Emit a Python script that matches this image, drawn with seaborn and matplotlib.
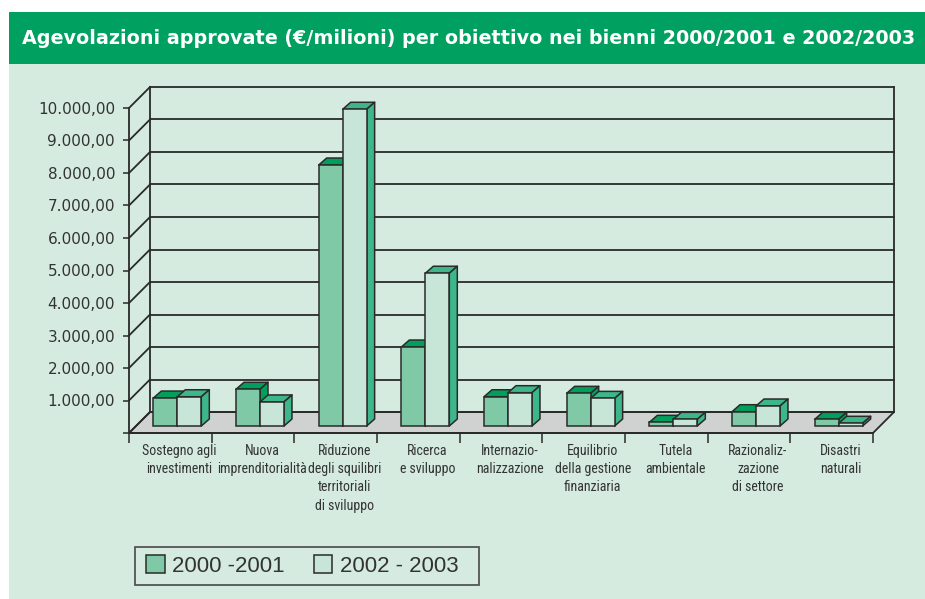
import matplotlib
matplotlib.use("Agg")
import matplotlib.pyplot as plt
import matplotlib.transforms as mtransforms
from matplotlib.patches import Polygon, Rectangle
from matplotlib.lines import Line2D
from matplotlib import font_manager
import seaborn as sns
import pandas as pd

# ---------------- data ----------------
categories = [
    "Sostegno agli\ninvestimenti",
    "Nuova\nimprenditorialità",
    "Riduzione\ndegli squilibri\nterritoriali\ndi sviluppo",
    "Ricerca\ne sviluppo",
    "Internazio-\nnalizzazione",
    "Equilibrio\ndella gestione\nfinanziaria",
    "Tutela\nambientale",
    "Razionaliz-\nzazione\ndi settore",
    "Disastri\nnaturali",
]
series_names = ["2000 -2001", "2002 - 2003"]
values_2000_2001 = [860, 1130, 8030, 2430, 900, 1005, 113, 440, 205]
values_2002_2003 = [900, 740, 9745, 4700, 1025, 850, 205, 615, 83]
ytick_values = [0, 1000, 2000, 3000, 4000, 5000, 6000, 7000, 8000, 9000, 10000]
ytick_labels = ["", "1.000,00", "2.000,00", "3.000,00", "4.000,00", "5.000,00",
                "6.000,00", "7.000,00", "8.000,00", "9.000,00", "10.000,00"]
title = "Agevolazioni approvate (€/milioni) per obiettivo nei bienni 2000/2001 e 2002/2003"

# ---------------- style ----------------
BG = "#d5ebe0"
TITLE_BG = "#00a060"
FLOOR = "#d0d2d2"
FRONT = ["#7fc9a7", "#c8e6d8"]
TOPC = ["#00a05c", "#3db78a"]
SIDEC = ["#00a05c", "#3db78a"]
EDGE = "#2a2a2a"
TXT = "#333333"

names = {f.name for f in font_manager.fontManager.ttflist}
CAT_FONT = "Roboto Condensed" if "Roboto Condensed" in names else "Roboto"
CAT_SIZE = 10 if CAT_FONT == "Roboto Condensed" else 9

W, H, DPI = 925, 599, 100
fig = plt.figure(figsize=(W / DPI, H / DPI), dpi=DPI)
fig.patch.set_facecolor("white")

# background panels
fig.add_artist(Rectangle((9 / W, 0), 1, (H - 64) / H, transform=fig.transFigure,
                         facecolor=BG, edgecolor="none", zorder=0))
fig.add_artist(Rectangle((9 / W, (H - 64) / H), 1, 52 / H, transform=fig.transFigure,
                         facecolor=TITLE_BG, edgecolor="none", zorder=0))
fig.text(22 / W, (H - 39) / H, title, color="white", fontsize=13.8, fontweight="bold",
         family="DejaVu Sans", va="center", ha="left")

# axes = front plane
ax = fig.add_axes([129 / W, (H - 433) / H, 744 / W, 325 / H])
ax.patch.set_visible(False)

df = pd.DataFrame({
    "categoria": categories * 2,
    "valore": values_2000_2001 + values_2002_2003,
    "biennio": [series_names[0]] * len(categories) + [series_names[1]] * len(categories),
})

sns.barplot(data=df, x="categoria", y="valore", hue="biennio", order=categories,
            hue_order=series_names, palette=FRONT, width=0.58, dodge=True,
            edgecolor=EDGE, linewidth=1.1, errorbar=None, ax=ax, legend=False,
            saturation=1)

ax.set_xlim(-0.5, len(categories) - 0.5)
ax.set_ylim(0, 10000)
fig.canvas.draw()

DEPTH = 21          # wall depth in pixels
BAR_OFF = 7         # bar front plane offset
BAR_D = (8, 7)      # bar depth

def P(x, y, dx=0.0, dy=0.0):
    px, py = ax.transData.transform((x, y))
    return (px + dx, py + dy)

ident = mtransforms.IdentityTransform()
x0, x1 = -0.5, len(categories) - 0.5
lw = 1.3

def add(artist):
    artist.set_clip_on(False)
    ax.add_artist(artist)

# floor
add(Polygon([P(x0, 0), P(x1, 0), P(x1, 0, DEPTH, DEPTH), P(x0, 0, DEPTH, DEPTH)],
            closed=True, transform=ident, facecolor=FLOOR, edgecolor=EDGE,
            linewidth=lw, zorder=1))

# back wall gridlines and left wall diagonals
for yv in ytick_values:
    a = P(x0, yv, DEPTH, DEPTH)
    b = P(x1, yv, DEPTH, DEPTH)
    add(Line2D([a[0], b[0]], [a[1], b[1]], transform=ident, color=EDGE,
               lw=lw, zorder=1.5, solid_capstyle="projecting"))
    f = P(x0, yv)
    add(Line2D([f[0], a[0]], [f[1], a[1]], transform=ident, color=EDGE,
               lw=lw, zorder=1.5))
# wall verticals
for xv in (x0, x1):
    a = P(xv, 0, DEPTH, DEPTH)
    b = P(xv, 10000, DEPTH, DEPTH)
    add(Line2D([a[0], b[0]], [a[1], b[1]], transform=ident, color=EDGE,
               lw=lw, zorder=1.5, solid_capstyle="projecting"))

# 3D bars
shift = mtransforms.ScaledTranslation(BAR_OFF / DPI, BAR_OFF / DPI, fig.dpi_scale_trans)
n = len(categories)
for i, p in enumerate(ax.patches[:2 * n]):
    s = i // n
    p.set_transform(ax.transData + shift)
    p.set_zorder(3 + s)
    p.set_clip_on(False)
    bx, bw, bh = p.get_x(), p.get_width(), p.get_height()
    dx, dy = BAR_D
    fr = P(bx + bw, 0, BAR_OFF, BAR_OFF)
    tl = P(bx, bh, BAR_OFF, BAR_OFF)
    tr = P(bx + bw, bh, BAR_OFF, BAR_OFF)
    add(Polygon([tl, tr, (tr[0] + dx, tr[1] + dy), (tl[0] + dx, tl[1] + dy)],
                closed=True, transform=ident, facecolor=TOPC[s], edgecolor=EDGE,
                linewidth=1.1, zorder=2.9 + s, joinstyle="round"))
    add(Polygon([fr, tr, (tr[0] + dx, tr[1] + dy), (fr[0] + dx, fr[1] + dy)],
                closed=True, transform=ident, facecolor=SIDEC[s], edgecolor=EDGE,
                linewidth=1.1, zorder=2.9 + s, joinstyle="round"))

# spines / ticks
for sp in ["top", "right"]:
    ax.spines[sp].set_visible(False)
for sp in ["left", "bottom"]:
    ax.spines[sp].set_color(EDGE)
    ax.spines[sp].set_linewidth(lw)
    ax.spines[sp].set_zorder(1.6)

ax.set_yticks(ytick_values)
ax.set_yticklabels(ytick_labels)
ax.tick_params(axis="y", length=4, width=1.1, color=EDGE, pad=6, labelsize=11,
               labelcolor=TXT)
ax.set_xticks([i - 0.5 for i in range(n + 1)])
ax.set_xticklabels([])
# labels centred under the (depth-shifted) bar groups
px_per_unit = P(1, 0)[0] - P(0, 0)[0]
lab_shift = (BAR_OFF + 2) / px_per_unit
ax.set_xticks([i + lab_shift for i in range(n)], minor=True)
ax.set_xticklabels(categories, minor=True)
ax.tick_params(axis="x", which="major", length=7, width=1.1, color=EDGE)
ax.tick_params(axis="x", which="minor", length=0, pad=8, labelsize=CAT_SIZE,
               labelcolor=TXT)
for t in ax.get_xticklabels(minor=True):
    t.set_family(CAT_FONT)
    t.set_linespacing(1.55 if CAT_FONT == "Roboto" else 1.38)
for t in ax.get_yticklabels():
    t.set_family("DejaVu Sans")
ax.set_xlabel("")
ax.set_ylabel("")

# legend (frame drawn as a separate box)
fig.add_artist(Rectangle((135 / W, (H - 585) / H), 344 / W, 38 / H,
                         transform=fig.transFigure, facecolor=BG,
                         edgecolor="#555555", linewidth=1.3, zorder=2))
handles = [Rectangle((0, 0), 1, 1, facecolor=FRONT[k], edgecolor=EDGE, linewidth=1.1)
           for k in range(2)]
leg = fig.legend(handles, series_names, loc="center left",
                 bbox_to_anchor=(146 / W, (H - 566) / H), ncol=2,
                 prop={"family": "Liberation Sans", "size": 16},
                 frameon=False, handlelength=0.85, handleheight=0.85,
                 handletextpad=0.32, columnspacing=1.3, borderpad=0,
                 borderaxespad=0)
leg.set_zorder(3)
for t in leg.get_texts():
    t.set_color(TXT)

fig.savefig("out.png", dpi=DPI, facecolor=fig.get_facecolor())
